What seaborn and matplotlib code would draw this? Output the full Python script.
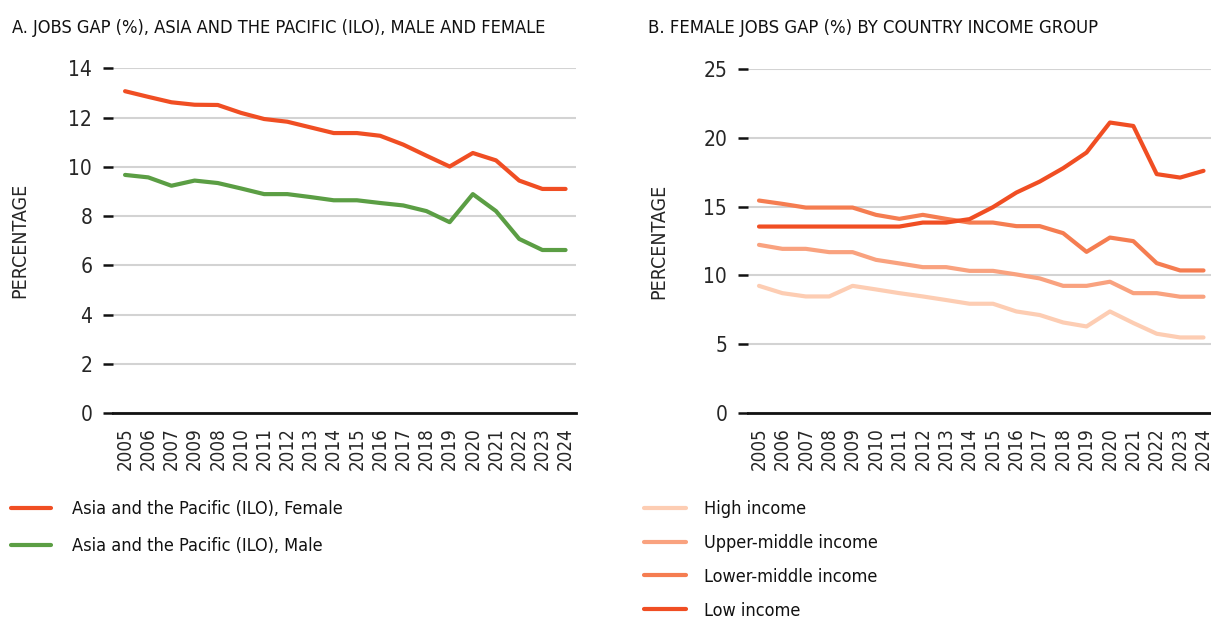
import matplotlib
matplotlib.use("Agg")
import matplotlib.pyplot as plt
import seaborn as sns
import pandas as pd

# ---------------- data ----------------
years_a = ["2005", "2006", "2007", "2009", "2008", "2010", "2011", "2012", "2013", "2014",
           "2015", "2016", "2017", "2018", "2019", "2020", "2021", "2022", "2023", "2024"]
female = [13.07, 12.84, 12.62, 12.52, 12.51, 12.19, 11.94, 11.83, 11.60, 11.37,
          11.37, 11.26, 10.90, 10.45, 10.01, 10.56, 10.26, 9.44, 9.10, 9.10]
male = [9.67, 9.57, 9.23, 9.44, 9.34, 9.12, 8.89, 8.89, 8.77, 8.64,
        8.64, 8.53, 8.43, 8.20, 7.75, 8.89, 8.20, 7.07, 6.62, 6.62]

years_b = [str(y) for y in range(2005, 2025)]
high_income = [9.24, 8.71, 8.47, 8.47, 9.24, 8.98, 8.71, 8.47, 8.21, 7.94,
               7.94, 7.38, 7.12, 6.58, 6.29, 7.38, 6.54, 5.76, 5.49, 5.49]
upper_middle = [12.22, 11.93, 11.93, 11.69, 11.69, 11.13, 10.87, 10.60, 10.60, 10.33,
                10.33, 10.07, 9.78, 9.24, 9.24, 9.54, 8.71, 8.71, 8.45, 8.45]
lower_middle = [15.44, 15.20, 14.93, 14.93, 14.93, 14.40, 14.11, 14.40, 14.11, 13.84,
                13.84, 13.58, 13.58, 13.07, 11.71, 12.75, 12.49, 10.89, 10.36, 10.36]
low_income = [13.55, 13.55, 13.55, 13.55, 13.55, 13.55, 13.55, 13.84, 13.84, 14.09,
              14.96, 16.02, 16.82, 17.79, 18.93, 21.11, 20.86, 17.36, 17.11, 17.60]

series_a = ["Asia and the Pacific (ILO), Female", "Asia and the Pacific (ILO), Male"]
series_b = ["High income", "Upper-middle income", "Lower-middle income", "Low income"]
yticks_a = [0, 2, 4, 6, 8, 10, 12, 14]
yticks_b = [0, 5, 10, 15, 20, 25]

colors_a = ["#F04E23", "#5B9E44"]
colors_b = ["#FDCDB3", "#F9A27F", "#F57D51", "#F04E23"]

title_a = "A. JOBS GAP (%), ASIA AND THE PACIFIC (ILO), MALE AND FEMALE"
title_b = "B. FEMALE JOBS GAP (%) BY COUNTRY INCOME GROUP"
ylabel = "PERCENTAGE"

df_a = pd.DataFrame({
    "year": years_a * 2,
    "value": female + male,
    "series": [series_a[0]] * len(years_a) + [series_a[1]] * len(years_a),
})
df_b = pd.DataFrame({
    "year": years_b * 4,
    "value": high_income + upper_middle + lower_middle + low_income,
    "series": sum([[s] * len(years_b) for s in series_b], []),
})

# ---------------- style ----------------
sns.set_theme(style="white")
FONT = ["DejaVu Sans"]
plt.rcParams["font.family"] = FONT
plt.rcParams["font.stretch"] = "condensed"
plt.rcParams["text.color"] = "#111111"

W, H = 1211, 621
fig = plt.figure(figsize=(W / 100, H / 100), dpi=100)


def px_axes(left, top, right, bottom):
    return fig.add_axes([left / W, 1 - bottom / H, (right - left) / W, (bottom - top) / H])


ax_a = px_axes(113, 68.3, 576, 413)
ax_b = px_axes(748, 69, 1211, 413)

sns.lineplot(data=df_a, x="year", y="value", hue="series", hue_order=series_a,
             palette=colors_a, sort=False, linewidth=3.0, ax=ax_a)
sns.lineplot(data=df_b, x="year", y="value", hue="series", hue_order=series_b,
             palette=colors_b, sort=False, linewidth=3.0, ax=ax_b)

for ax, ticks, xlim in [(ax_a, yticks_a, (-0.52, 19.45)), (ax_b, yticks_b, (-0.47, 19.32))]:
    ax.set_ylim(ticks[0], ticks[-1])
    ax.set_yticks(ticks)
    ax.set_xlim(*xlim)
    ax.yaxis.grid(True, color="#d3d3d3", linewidth=1.5)
    ax.set_axisbelow(True)
    for s in ["left", "right", "top"]:
        ax.spines[s].set_visible(False)
    ax.spines["bottom"].set_color("#111111")
    ax.spines["bottom"].set_linewidth(2.0)
    ax.tick_params(axis="y", which="major", left=True, length=7, width=1.8,
                   color="#111111", pad=8, labelsize=15)
    ax.tick_params(axis="x", which="major", bottom=False, length=0, pad=10,
                   labelsize=13.5, labelrotation=90)
    ax.set_xlabel("")
    ax.set_ylabel(ylabel, fontsize=14)

ax_a.yaxis.set_label_coords(-0.18, 0.5)
ax_b.yaxis.set_label_coords(-0.172, 0.5)

fig.text(12 / W, 1 - 28 / H, title_a, fontsize=13.1, va="center", ha="left")
fig.text(648 / W, 1 - 28 / H, title_b, fontsize=13.2, va="center", ha="left")

sns.move_legend(ax_a, "upper left", bbox_to_anchor=(11 / W, 1 - 500 / H),
                bbox_transform=fig.transFigure, frameon=False, title=None,
                fontsize=13, handlelength=2.2, handletextpad=1.16,
                labelspacing=1.06, borderpad=0, borderaxespad=0)
sns.move_legend(ax_b, "upper left", bbox_to_anchor=(644 / W, 1 - 500 / H),
                bbox_transform=fig.transFigure, frameon=False, title=None,
                fontsize=13, handlelength=2.33, handletextpad=1.0,
                labelspacing=0.88, borderpad=0, borderaxespad=0)
for ax in (ax_a, ax_b):
    for line in ax.get_legend().get_lines():
        line.set_linewidth(3.0)
        line.set_solid_capstyle("round")

fig.savefig("out.png", dpi=100)
